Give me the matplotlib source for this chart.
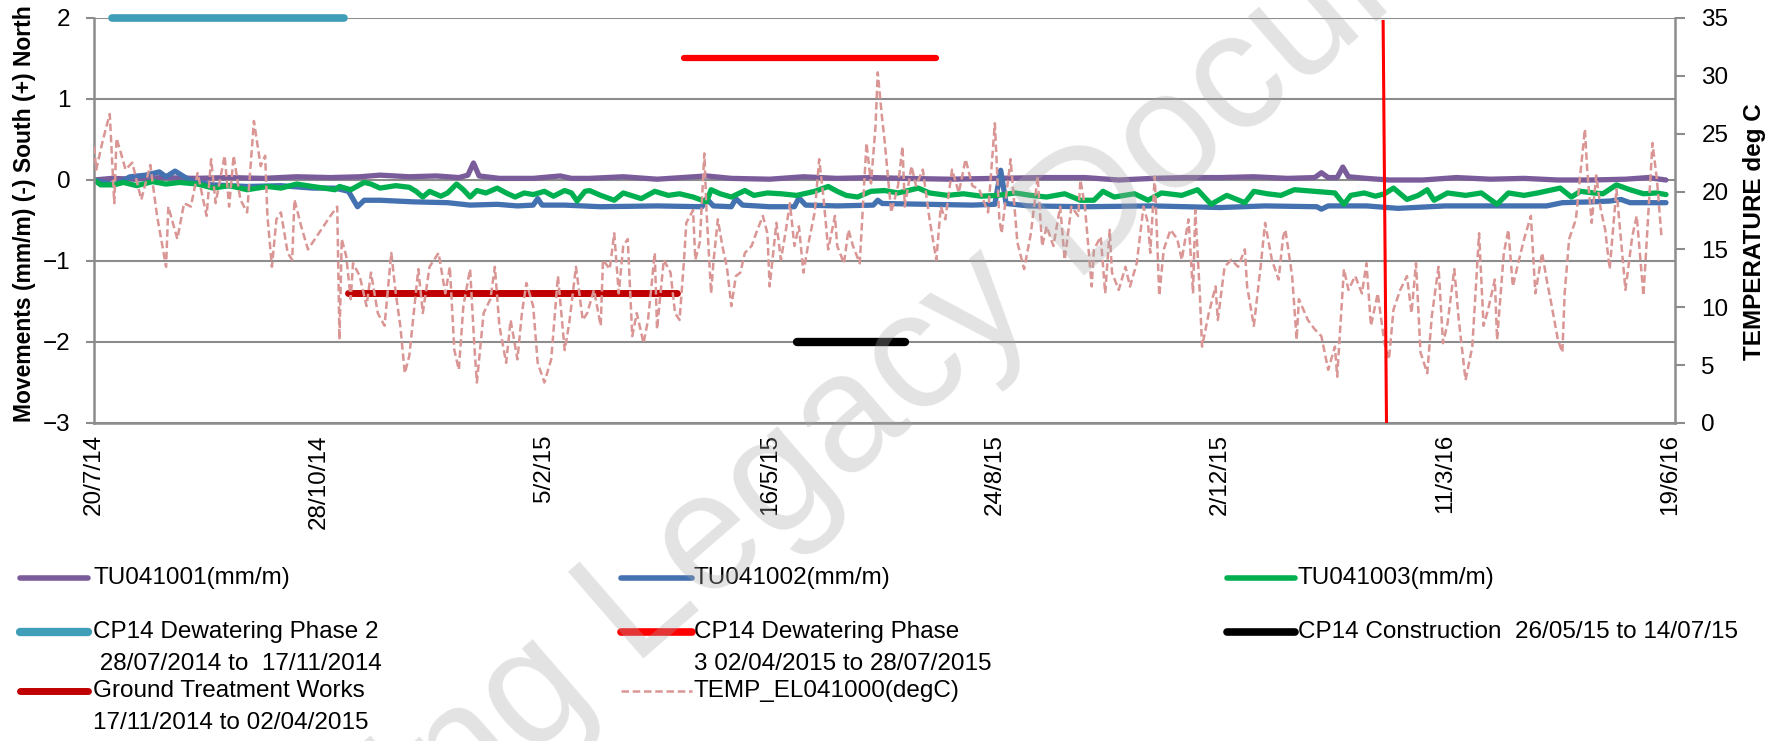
import numpy as np
import matplotlib
matplotlib.use('Agg')
import matplotlib.pyplot as plt
import matplotlib.dates as mdates
from matplotlib.lines import Line2D
from datetime import datetime

plt.rcParams['font.family'] = ['Liberation Sans', 'DejaVu Sans']

START = '2014-07-20'
END = '2016-06-21'

# readings as (days since 20/7/14, value), taken off the chart
tu041001 = [(0, 0.0), (8, 0.02), (18, 0.01), (30, 0.03), (45, 0.02), (60, 0.03), (75, 0.02), (90, 0.04),
            (105, 0.03), (118, 0.04), (127, 0.06), (140, 0.04), (152, 0.05), (162, 0.03), (166, 0.06),
            (168.5, 0.21), (171, 0.05), (180, 0.02), (195, 0.02), (207, 0.05), (212, 0.02), (220, 0.02),
            (235, 0.04), (250, 0.01), (261, 0.03), (272, 0.05), (283, 0.02), (300, 0.01), (315, 0.04),
            (330, 0.02), (345, 0.03), (360, 0.02), (380, 0.01), (400, 0.02), (420, 0.03), (440, 0.03),
            (455, 0.0), (470, 0.02), (485, 0.03), (500, 0.03), (515, 0.04), (530, 0.02), (542, 0.03),
            (545, 0.09), (548, 0.03), (552, 0.03), (554.5, 0.16), (557, 0.04), (565, 0.02), (575, 0.0),
            (590, 0.0), (605, 0.03), (620, 0.01), (635, 0.02), (650, 0.0), (665, 0.0), (680, 0.01),
            (690, 0.03), (698, 0.0)]

tu041002 = [(0, 0.0), (3, -0.02), (9, -0.06), (16, 0.04), (23, 0.06), (29, 0.1), (32, 0.04), (36, 0.11),
            (40, 0.04), (44, -0.02), (53, -0.06), (68, -0.08), (83, -0.07), (97, -0.1), (107, -0.1),
            (113, -0.14), (117, -0.33), (120, -0.25), (127, -0.25), (142, -0.27), (157, -0.28), (167, -0.31),
            (179, -0.3), (188, -0.32), (195, -0.31), (197, -0.23), (199, -0.31), (209, -0.31), (225, -0.33),
            (250, -0.32), (270, -0.33), (272, -0.23), (275, -0.32), (283, -0.33), (285, -0.23), (288, -0.31),
            (300, -0.33), (311, -0.33), (313, -0.22), (316, -0.31), (330, -0.32), (346, -0.31), (348, -0.25),
            (350, -0.29), (370, -0.3), (390, -0.31), (400, -0.3), (402.6, 0.12), (405, -0.29), (415, -0.32),
            (440, -0.33), (470, -0.32), (500, -0.34), (520, -0.32), (543, -0.33), (545, -0.36), (548, -0.32),
            (565, -0.32), (579, -0.35), (600, -0.32), (625, -0.32), (645, -0.32), (652, -0.28), (665, -0.27),
            (673, -0.26), (678, -0.24), (682, -0.28), (698, -0.28)]

tu041003 = [(0, 0.0), (3, -0.06), (9, -0.06), (13, -0.03), (19, -0.07), (26, -0.02), (32, -0.05), (38, -0.03),
            (46, -0.05), (53, -0.1), (60, -0.07), (68, -0.12), (77, -0.08), (83, -0.1), (90, -0.05), (97, -0.08),
            (107, -0.12), (109, -0.08), (114, -0.12), (120, -0.03), (123, -0.05), (127, -0.1), (134, -0.07),
            (140, -0.09), (143, -0.14), (146, -0.21), (149, -0.14), (154, -0.2), (157, -0.16), (161, -0.05),
            (164, -0.12), (167, -0.21), (170, -0.13), (174, -0.16), (179, -0.1), (183, -0.16), (187, -0.21),
            (191, -0.16), (195, -0.18), (200, -0.14), (204, -0.2), (209, -0.13), (212, -0.16), (214.5, -0.26),
            (218, -0.14), (220, -0.13), (225, -0.19), (231, -0.25), (235, -0.16), (243, -0.23), (249, -0.14),
            (255, -0.19), (260, -0.17), (266, -0.21), (272, -0.27), (274, -0.12), (278, -0.17), (283, -0.21),
            (289, -0.13), (293, -0.19), (299, -0.16), (305, -0.17), (312, -0.19), (320, -0.14), (326, -0.08),
            (330, -0.14), (334, -0.19), (339, -0.21), (345, -0.14), (351, -0.13), (357, -0.16), (366, -0.1),
            (371, -0.16), (379, -0.19), (386, -0.17), (394, -0.2), (401, -0.19), (409, -0.16), (416, -0.19),
            (423, -0.21), (431, -0.17), (438, -0.25), (444, -0.25), (448, -0.14), (453, -0.21), (462, -0.17),
            (468, -0.25), (474, -0.16), (483, -0.19), (490, -0.12), (496, -0.3), (503, -0.19), (511, -0.28),
            (515, -0.14), (521, -0.17), (527, -0.19), (533, -0.12), (542, -0.14), (551, -0.16), (555, -0.3),
            (558, -0.19), (564, -0.16), (569, -0.2), (573, -0.17), (577, -0.1), (583, -0.24), (588, -0.19),
            (592, -0.12), (595, -0.25), (601, -0.16), (609, -0.19), (616, -0.16), (623, -0.3), (628, -0.16),
            (635, -0.19), (641, -0.16), (651, -0.1), (656, -0.21), (660, -0.14), (666, -0.16), (670, -0.17),
            (676, -0.06), (682, -0.12), (688, -0.17), (694, -0.16), (698, -0.18)]

temp_el041000 = [
    (0, 23.9), (1, 21.9), (4, 24.5), (7, 26.7), (9, 19.0), (10, 24.6), (12, 23.3), (14, 21.9), (17, 22.5),
    (21, 19.3), (25, 22.3), (28, 17.9), (32, 13.5), (33, 18.7), (37, 15.9), (40, 19.0), (43, 18.7), (46, 21.6),
    (50, 17.9), (52, 22.8), (54, 19.0), (58, 23.1), (60, 18.7), (62, 23.1), (65, 19.3), (68, 18.2), (71, 26.1),
    (74, 22.2), (76, 23.1), (77, 17.9), (79, 13.5), (81, 17.6), (83, 18.2), (86, 14.7), (88, 14.1), (89, 19.3),
    (92, 17.0), (95, 15.0), (105, 17.9), (108, 18.7), (109, 7.2), (110, 15.9), (112, 14.4), (114, 10.7),
    (115, 13.8), (118, 12.7), (121, 10.1), (123, 13.0), (126, 9.5), (129, 8.4), (132, 14.7), (134, 11.2),
    (136, 8.4), (138, 4.3), (140, 5.8), (144, 13.3), (146, 9.5), (149, 13.5), (153, 14.7), (156, 11.2),
    (158, 13.5), (160, 6.3), (162, 4.6), (164, 10.1), (167, 13.3), (169, 6.3), (170, 3.5), (173, 9.5),
    (176, 10.7), (178, 13.5), (180, 8.4), (183, 5.2), (185, 8.9), (188, 5.5), (190, 9.5), (192, 12.1),
    (195, 10.1), (197, 5.2), (200, 3.5), (203, 5.5), (206, 12.7), (209, 6.3), (211, 8.6), (214, 13.5),
    (217, 8.9), (219, 9.5), (222, 11.5), (225, 8.4), (226, 14.1), (229, 13.3), (231, 16.4), (233, 11.2),
    (235, 15.3), (237, 15.9), (239, 7.5), (241, 9.5), (244, 6.9), (246, 8.9), (249, 14.7), (250, 8.1),
    (253, 14.1), (256, 13.0), (258, 9.5), (260, 8.9), (262, 14.1), (263, 17.3), (266, 18.4), (267, 14.1),
    (269, 15.6), (271, 23.3), (272, 18.2), (274, 11.2), (275, 13.8), (277, 17.6), (279, 15.3), (281, 13.5),
    (283, 10.1), (285, 12.7), (287, 13.0), (289, 14.7), (292, 15.3), (294, 16.4), (297, 17.9), (299, 16.4),
    (300, 11.8), (303, 17.3), (305, 14.1), (307, 16.4), (309, 19.0), (311, 15.3), (313, 17.0), (315, 13.0),
    (317, 15.3), (320, 18.2), (322, 22.8), (324, 19.3), (326, 15.0), (329, 17.9), (330, 15.3), (333, 13.8),
    (335, 16.7), (337, 15.3), (340, 13.8), (343, 24.2), (345, 20.7), (347, 25.6), (348, 30.3), (350, 26.2),
    (351, 24.5), (354, 18.2), (357, 20.5), (359, 23.9), (360, 18.7), (363, 22.2), (365, 20.5), (368, 21.9),
    (371, 17.6), (374, 14.1), (376, 18.7), (378, 17.6), (381, 21.9), (384, 19.9), (387, 22.8), (390, 20.5),
    (393, 20.2), (397, 18.2), (400, 25.9), (402, 17.6), (403, 16.4), (407, 22.8), (410, 15.6), (413, 13.3),
    (416, 16.4), (419, 21.3), (421, 15.3), (423, 17.0), (426, 15.3), (429, 18.7), (431, 14.1), (434, 18.7),
    (437, 17.9), (438, 21.0), (440, 18.7), (443, 11.8), (444, 15.0), (447, 16.1), (449, 11.2), (451, 16.7),
    (452, 13.0), (455, 11.5), (458, 13.5), (460, 11.8), (463, 13.8), (466, 18.7), (468, 17.3), (469, 14.7),
    (471, 21.3), (473, 11.0), (475, 15.0), (478, 16.7), (481, 15.9), (483, 14.1), (486, 17.6), (488, 11.2),
    (489, 18.4), (491, 11.2), (492, 6.6), (495, 9.5), (498, 11.8), (499, 8.9), (502, 13.5), (505, 14.1),
    (508, 13.5), (511, 15.0), (512, 11.8), (515, 8.4), (518, 13.5), (520, 17.3), (523, 14.1), (526, 12.4),
    (528, 16.1), (529, 16.7), (532, 12.7), (534, 7.2), (535, 10.7), (539, 8.9), (542, 8.1), (545, 7.5),
    (548, 4.6), (551, 6.6), (552, 4.0), (555, 13.3), (557, 11.5), (560, 12.7), (563, 11.2), (565, 13.8),
    (567, 8.4), (570, 11.2), (573, 6.9), (575, 5.5), (577, 9.8), (580, 11.5), (583, 12.7), (585, 9.5),
    (587, 13.8), (589, 6.1), (592, 4.3), (594, 9.2), (597, 13.5), (599, 6.9), (601, 8.6), (604, 13.3),
    (606, 8.9), (609, 3.7), (612, 6.6), (615, 16.4), (617, 8.4), (619, 9.8), (622, 12.4), (623, 7.2),
    (626, 14.7), (628, 16.7), (630, 11.8), (632, 13.5), (635, 15.9), (638, 17.9), (640, 11.2), (643, 14.7),
    (645, 12.4), (647, 10.4), (650, 7.2), (652, 6.1), (653, 11.2), (655, 15.9), (658, 17.6), (660, 21.6),
    (662, 25.4), (663, 21.9), (665, 17.3), (667, 21.4), (669, 18.5), (671, 16.7), (673, 13.3), (676, 20.2),
    (680, 11.5), (683, 16.1), (685, 17.9), (688, 11.0), (692, 24.2), (694, 21.0), (696, 16.1)]

# construction periods, drawn as flat bars on the movement axis
period_start = ['2014-07-28', '2014-11-10', '2015-04-08', '2015-05-28']
period_end = ['2014-11-08', '2015-04-05', '2015-07-29', '2015-07-15']
period_level = [2.0, -1.4, 1.51, -2.0]

# the red marker line (temperature axis units)
marker_days = [572.4, 573.9]
marker_temp = [34.7, 0.0]

x_tick_labels = ['20/7/14', '28/10/14', '5/2/15', '16/5/15', '24/8/15', '2/12/15', '11/3/16', '19/6/16']

lbl_tu1 = ['TU041001(mm/m)']
lbl_tu2 = ['TU041002(mm/m)']
lbl_tu3 = ['TU041003(mm/m)']
lbl_dw2 = ['CP14 Dewatering Phase 2', ' 28/07/2014 to  17/11/2014']
lbl_dw3 = ['CP14 Dewatering Phase', '3 02/04/2015 to 28/07/2015']
lbl_con = ['CP14 Construction  26/05/15 to 14/07/15']
lbl_gtw = ['Ground Treatment Works', '17/11/2014 to 02/04/2015']
lbl_tmp = ['TEMP_EL041000(degC)']

PURPLE = '#7a5c9b'
BLUE = '#4471b0'
GREEN = '#00b050'
CYAN = '#3f9db8'
RED = '#ff0000'
DARKRED = '#c00000'
ROSE = '#d99694'
GRID = '#8c8c8c'

W, H = 1778, 741
t0 = mdates.datestr2num(START)


def to_x(days):
    return t0 + np.asarray(days, dtype=float)


def split(pairs):
    d, v = zip(*pairs)
    return to_x(d), np.array(v)


fig = plt.figure(figsize=(W / 100, H / 100), dpi=100)
ax = fig.add_axes([94 / W, 1 - 423 / H, (1675 - 94) / W, (423 - 18) / H])
ax.set_xlim(t0, mdates.datestr2num(END))
ax.set_ylim(-3, 2)
ax.set_yticks(np.arange(-3, 3))
ax.grid(axis='y', color=GRID, lw=1.5)
ax.set_axisbelow(True)
for s in ['top', 'right']:
    ax.spines[s].set_visible(False)
for s in ['left', 'bottom']:
    ax.spines[s].set_color(GRID)
    ax.spines[s].set_linewidth(1.8)
ax.tick_params(axis='y', direction='out', length=6, width=1.5, color=GRID, labelsize=17.5, pad=11)

tick_pos = [mdates.date2num(datetime.strptime(t, '%d/%m/%y')) for t in x_tick_labels]
ax.set_xticks(tick_pos)
ax.set_xticklabels(x_tick_labels, rotation=90, fontsize=17.5)
ax.tick_params(axis='x', length=0, pad=8)

# movement series
for pairs, col in [(tu041001, PURPLE), (tu041002, BLUE), (tu041003, GREEN)]:
    x, y = split(pairs)
    ax.plot(x, y, color=col, lw=3.8, solid_joinstyle='round', solid_capstyle='round')

# period bars
bar_styles = [(CYAN, 5.5), (DARKRED, 5.0), (RED, 4.5), ('black', 6.0)]
for s, e, lvl, (col, lw) in zip(period_start, period_end, period_level, bar_styles):
    ax.plot([mdates.datestr2num(s), mdates.datestr2num(e)], [lvl, lvl], color=col, lw=lw,
            solid_capstyle='round', clip_on=False)

# temperature on the secondary axis
ax2 = ax.twinx()
ax2.set_ylim(0, 35)
ax2.set_yticks(np.arange(0, 40, 5))
for s in ['top', 'left', 'bottom']:
    ax2.spines[s].set_visible(False)
ax2.spines['right'].set_color(GRID)
ax2.spines['right'].set_linewidth(1.8)
ax2.tick_params(axis='y', direction='out', length=7, width=1.5, color=GRID, labelsize=17.5, pad=12)

tx, ty = split(temp_el041000)
ax2.plot(tx, ty, color=ROSE, lw=1.8, dashes=(3.0, 1.5))
ax2.plot(to_x(marker_days), marker_temp, color=RED, lw=2.2)

fig.text(25 / W, 1 - 214 / H, 'Movements (mm/m) (-) South (+) North', rotation=90,
         ha='center', va='center', fontsize=16.5, fontweight='bold')
fig.text(1754 / W, 1 - 232 / H, 'TEMPERATURE deg C', rotation=90,
         ha='center', va='center', fontsize=17.5, fontweight='bold')

# legend, laid out like the spreadsheet one
cols = [(20, 88, 93), (621, 692, 694), (1227, 1295, 1298)]
rows = [578, 632, 691]
entries = [
    (0, 0, lbl_tu1, dict(color=PURPLE, lw=4)),
    (1, 0, lbl_tu2, dict(color=BLUE, lw=4)),
    (2, 0, lbl_tu3, dict(color=GREEN, lw=4)),
    (0, 1, lbl_dw2, dict(color=CYAN, lw=6)),
    (1, 1, lbl_dw3, dict(color=RED, lw=5.5)),
    (2, 1, lbl_con, dict(color='black', lw=5.5)),
    (0, 2, lbl_gtw, dict(color=DARKRED, lw=5)),
    (1, 2, lbl_tmp, dict(color=ROSE, lw=1.8, dashes=(3.0, 1.5))),
]
for c, r, lines, style in entries:
    x0, x1, xt = cols[c]
    y = rows[r]
    fig.add_artist(Line2D([x0 / W, x1 / W], [1 - y / H, 1 - y / H], transform=fig.transFigure,
                          solid_capstyle='round', **style))
    for i, line in enumerate(lines):
        fig.text(xt / W, 1 - (y + i * 32) / H, line, ha='left', va='center', fontsize=17.5)

# watermark
fig.text(870 / W, 1 - 405 / H, 'Training Legacy Document', rotation=41, rotation_mode='anchor',
         ha='center', va='center', fontsize=120, color='#a8a8a8', alpha=0.32, zorder=20)

fig.savefig('out.png', dpi=100)
